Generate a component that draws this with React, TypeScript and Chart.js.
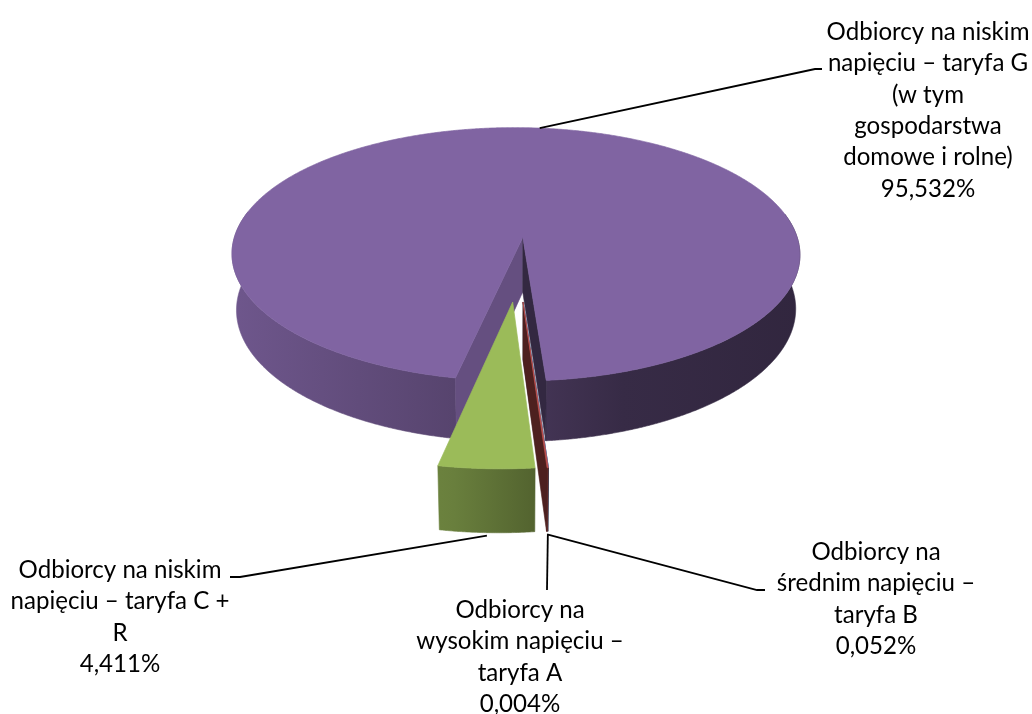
import { useEffect, useRef } from "react";
import { Chart, ArcElement, PieController } from "chart.js";

Chart.register(ArcElement, PieController);

// ---------- data ----------
const categories = [
  "Odbiorcy na wysokim napięciu – taryfa A",
  "Odbiorcy na średnim napięciu – taryfa B",
  "Odbiorcy na niskim napięciu – taryfa C + R",
  "Odbiorcy na niskim napięciu – taryfa G (w tym gospodarstwa domowe i rolne)",
];
const labelLines = [
  ["Odbiorcy na", "wysokim napięciu –", "taryfa A"],
  ["Odbiorcy na", "średnim napięciu –", "taryfa B"],
  ["Odbiorcy na niskim", "napięciu – taryfa C +", "R"],
  ["Odbiorcy na niskim", "napięciu – taryfa G", "(w tym", "gospodarstwa", "domowe i rolne)"],
];
const shares = [0.004, 0.052, 4.411, 95.532];
const sliceColors = ["#4F81BD", "#C0504D", "#9BBB59", "#8064A2"];

// ---------- layout / style ----------
const labelPos = [
  [520, 618],
  [876, 560],
  [120, 578],
  [928, 40],
];
const leaderPaths = [
  [[547, 590]],
  [[757, 590], [765, 590]],
  [[240, 577], [230, 577]],
  [[815, 69], [822, 69]],
];
const LINE_GAP = 31.3;
const REF_TEXT_WIDTH = 203;
const RADIUS = 291;
const EXPLODE = 71;
const ROTATION = 176;
const VIEW_SIN = 0.457;
const VIEW_COS = Math.sqrt(1 - VIEW_SIN * VIEW_SIN);
const SIDE_TILT = 0.16;
const CAMERA_DIST = 1852;
const THICKNESS = 64;
const WALL_SHADE = [
  [0, 0.87],
  [0.39, 0.68],
  [0.54, 0.52],
  [0.68, 0.43],
  [1, 0.38],
];

function hexToRgb(hex: string) {
  const h = hex.replace("#", "");
  return [parseInt(h.slice(0, 2), 16), parseInt(h.slice(2, 4), 16), parseInt(h.slice(4, 6), 16)];
}
function shade(hex: string, f: number) {
  const [r, g, b] = hexToRgb(hex);
  return `rgb(${Math.round(r * f)},${Math.round(g * f)},${Math.round(b * f)})`;
}
function fmt(v: number) {
  return v.toFixed(3).replace(".", ",") + "%";
}
function project(cx: number, cy: number, u: number, v: number, h: number) {
  const depth = v * VIEW_COS + h * VIEW_SIN - u * SIDE_TILT;
  const k = CAMERA_DIST / (CAMERA_DIST - depth);
  return [cx + u * k, cy + (v * VIEW_SIN - h * VIEW_COS) * k];
}

const pie3d = {
  id: "pie3d",
  beforeDatasetsDraw(chart: any) {
    const ctx: CanvasRenderingContext2D = chart.ctx;
    const meta = chart.getDatasetMeta(0);
    const slices = meta.data.map((arc: any, i: number) => {
      const p = arc.getProps(["x", "y", "startAngle", "endAngle", "outerRadius"], true);
      const off = arc.options.offset || 0;
      const mid = (p.startAngle + p.endAngle) / 2;
      return {
        i,
        cx: p.x,
        cy: p.y,
        s: p.startAngle,
        e: p.endAngle,
        R: p.outerRadius,
        ox: off * Math.cos(mid),
        oy: off * Math.sin(mid),
        color: arc.options.backgroundColor as string,
      };
    });
    const order = [...slices].sort((a, b) => a.oy - b.oy || a.i - b.i);
    const camU = -CAMERA_DIST * SIDE_TILT;
    const camV = CAMERA_DIST * VIEW_COS;

    ctx.save();
    for (const sl of order) {
      const { cx, cy, R, ox, oy, s, e, color } = sl;
      const proj = (u: number, v: number, h: number) => project(cx, cy, u, v, h);
      const rim = (t: number, h: number) => proj(ox + R * Math.cos(t), oy + R * Math.sin(t), h);

      // outer wall (front-facing runs)
      const grad = ctx.createLinearGradient(cx - R, 0, cx + R, 0);
      for (const [pos, f] of WALL_SHADE) grad.addColorStop(pos, shade(color, f));
      const a = 0.2;
      for (let k = -2; k <= 2; k++) {
        const lo = Math.max(s, -a + 2 * Math.PI * k);
        const hi = Math.min(e, Math.PI + a + 2 * Math.PI * k);
        if (hi <= lo) continue;
        const n = Math.max(2, Math.ceil((hi - lo) / 0.005));
        ctx.beginPath();
        for (let j = 0; j <= n; j++) {
          const [X, Y] = rim(lo + ((hi - lo) * j) / n, 0);
          if (j === 0) ctx.moveTo(X, Y);
          else ctx.lineTo(X, Y);
        }
        for (let j = n; j >= 0; j--) {
          const [X, Y] = rim(lo + ((hi - lo) * j) / n, -THICKNESS);
          ctx.lineTo(X, Y);
        }
        ctx.closePath();
        ctx.fillStyle = grad;
        ctx.strokeStyle = grad;
        ctx.lineWidth = 0.6;
        ctx.fill();
        ctx.stroke();
      }

      // radial cut faces
      const faces = [
        { t: s, nx: Math.sin(s), ny: -Math.cos(s) },
        { t: e, nx: -Math.sin(e), ny: Math.cos(e) },
      ];
      for (const fc of faces) {
        const dot = fc.nx * (camU - ox) + fc.ny * (camV - oy);
        if (dot <= 0) continue;
        const f = fc.nx > 0 ? 0.79 : 0.4;
        const p1 = proj(ox, oy, 0);
        const p2 = rim(fc.t, 0);
        const p3 = rim(fc.t, -THICKNESS);
        const p4 = proj(ox, oy, -THICKNESS);
        ctx.beginPath();
        ctx.moveTo(p1[0], p1[1]);
        ctx.lineTo(p2[0], p2[1]);
        ctx.lineTo(p3[0], p3[1]);
        ctx.lineTo(p4[0], p4[1]);
        ctx.closePath();
        ctx.fillStyle = shade(color, f);
        ctx.strokeStyle = shade(color, f);
        ctx.lineWidth = 0.6;
        ctx.fill();
        ctx.stroke();
      }

      // top face
      const apex = proj(ox, oy, 0);
      const n = Math.max(2, Math.ceil((e - s) / 0.005));
      ctx.beginPath();
      ctx.moveTo(apex[0], apex[1]);
      for (let j = 0; j <= n; j++) {
        const [X, Y] = rim(s + ((e - s) * j) / n, 0);
        ctx.lineTo(X, Y);
      }
      ctx.closePath();
      ctx.fillStyle = color;
      ctx.strokeStyle = color;
      ctx.lineWidth = 0.7;
      ctx.fill();
      ctx.stroke();
    }
    ctx.restore();

    // leader lines + labels
    ctx.save();
    ctx.font = `24px Lato, "Open Sans", sans-serif`;
    const w = ctx.measureText("Odbiorcy na niskim").width;
    const size = (24 * REF_TEXT_WIDTH) / w;
    ctx.font = `${size.toFixed(2)}px Lato, "Open Sans", sans-serif`;
    ctx.fillStyle = "#000";
    ctx.textAlign = "center";
    ctx.textBaseline = "alphabetic";
    for (const sl of slices) {
      const { cx, cy, R, ox, oy, s, e, i } = sl;
      const mid = (s + e) / 2;
      const front = Math.sin(mid) > 0;
      const h = front ? -THICKNESS : 0;
      const [ax, ay] = project(cx, cy, ox + R * Math.cos(mid), oy + R * Math.sin(mid), h);
      ctx.beginPath();
      ctx.moveTo(ax, ay + (front ? 3 : 0));
      for (const [px, py] of leaderPaths[i]) ctx.lineTo(px, py);
      ctx.strokeStyle = "#000";
      ctx.lineWidth = 1.8;
      ctx.stroke();

      const lines = [...labelLines[i], fmt(shares[i])];
      const [lx, ly] = labelPos[i];
      lines.forEach((ln, j) => ctx.fillText(ln, lx, ly + j * LINE_GAP));
    }
    ctx.restore();
    return false;
  },
};

export default function App() {
  const ref = useRef<HTMLCanvasElement>(null);
  useEffect(() => {
    const canvas = ref.current!;
    const chart = new Chart(canvas, {
      type: "pie",
      data: {
        labels: categories,
        datasets: [
          {
            data: shares,
            backgroundColor: sliceColors,
            borderWidth: 0,
            offset: EXPLODE,
            radius: RADIUS,
          } as any,
        ],
      },
      options: {
        responsive: false,
        animation: false,
        rotation: ROTATION,
        radius: RADIUS,
        events: [],
        layout: { padding: { left: 4, right: 0, top: 0, bottom: 177 } },
        plugins: { legend: { display: false }, tooltip: { enabled: false } },
      } as any,
      plugins: [pie3d as any],
    });
    return () => chart.destroy();
  }, []);
  return (
    <div style={{ position: "fixed", left: 0, top: 0, width: 1032, height: 714, background: "#fff" }}>
      <canvas ref={ref} width={1032} height={714} style={{ display: "block", width: 1032, height: 714 }} />
    </div>
  );
}
